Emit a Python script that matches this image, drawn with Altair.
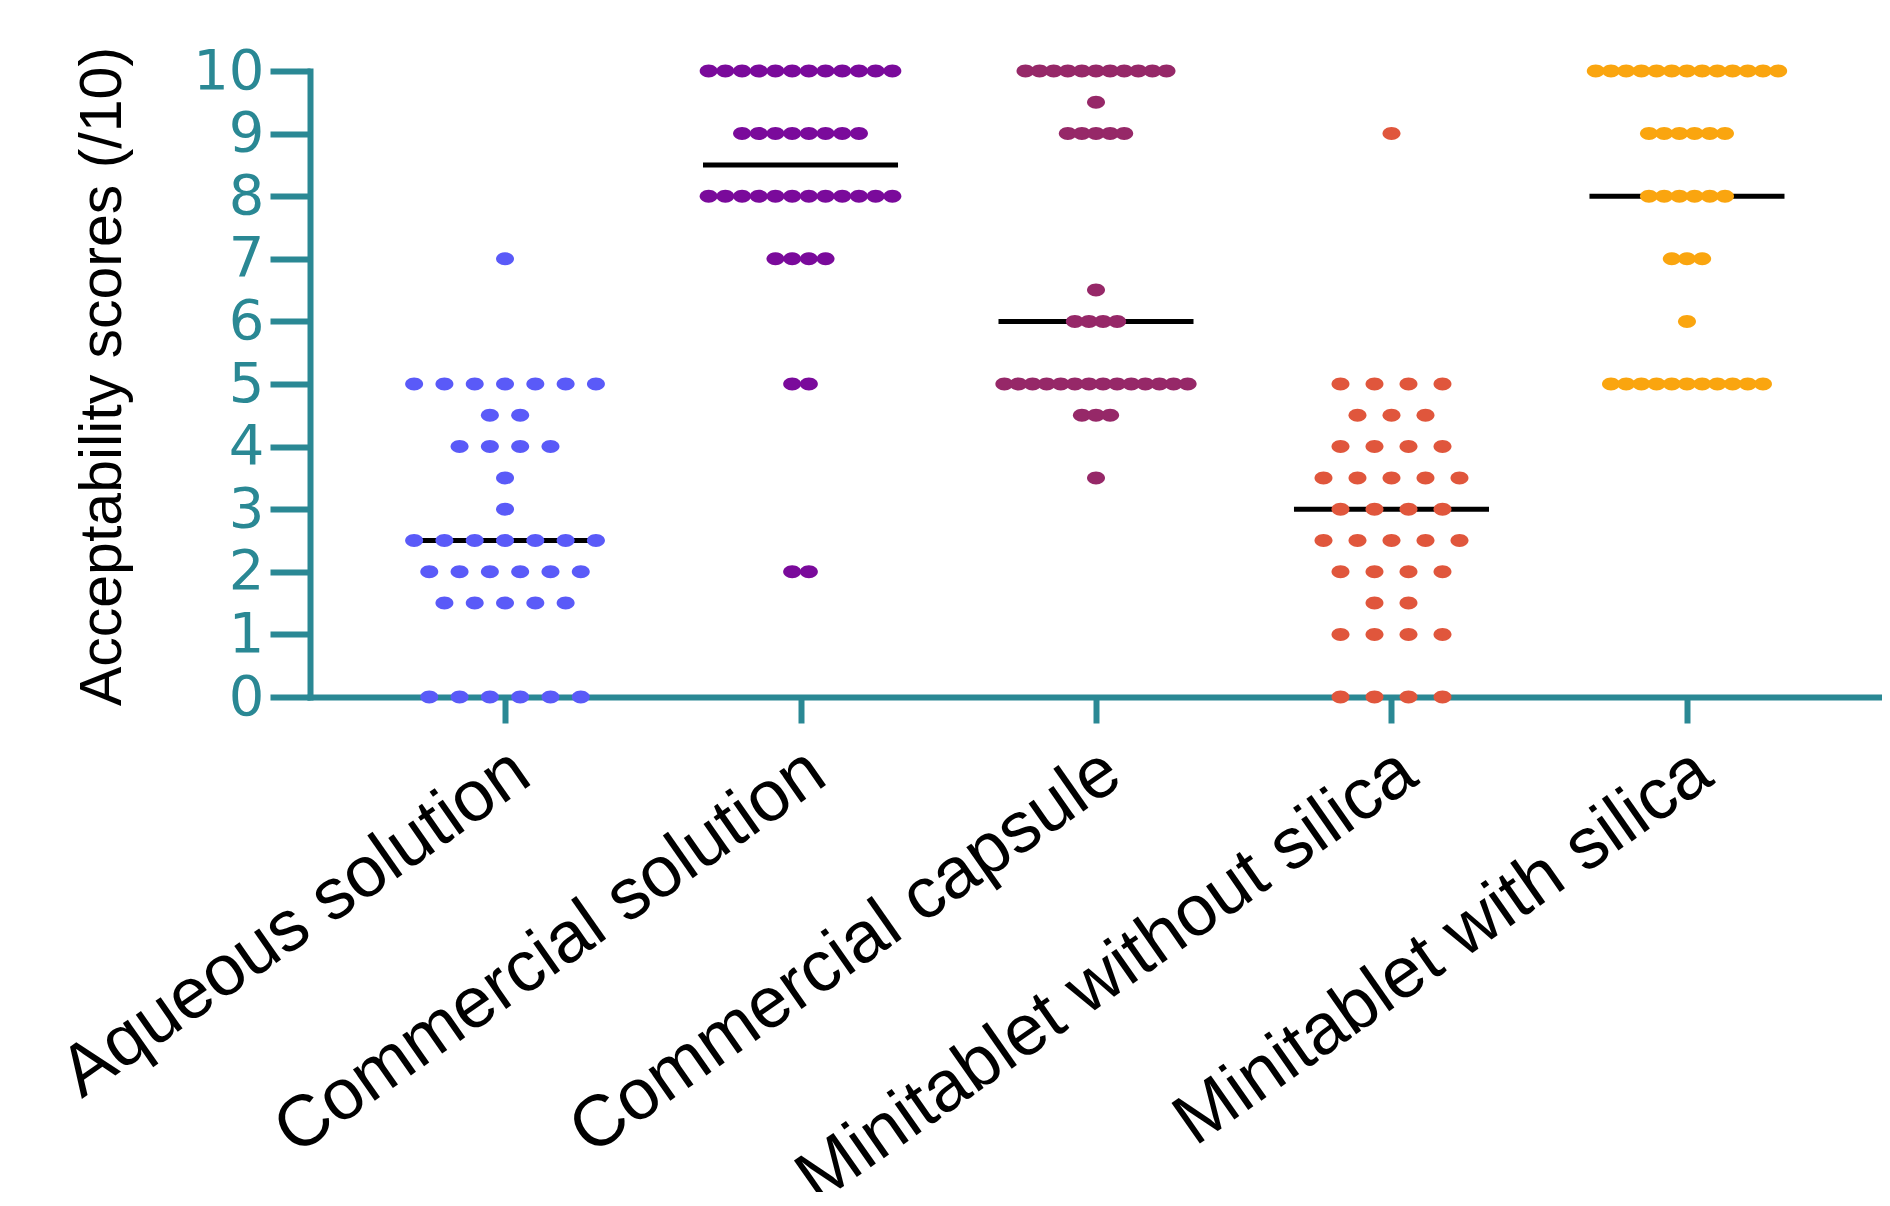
import json
import altair as alt
import pandas as pd
import numpy as np

# ---------------- data ----------------
categories = ["Aqueous solution", "Commercial solution", "Commercial capsule",
              "Minitablet without silica", "Minitablet with silica"]
colors = ["#5A5AF8", "#7A0A9B", "#962868", "#E0563C", "#FAA50F"]

aqueous_scores = [7, 5, 4.5, 4, 3.5, 3, 2.5, 2, 1.5, 0]
aqueous_counts = [1, 7, 2, 4, 1, 1, 7, 6, 5, 6]

comm_solution_scores = [10, 9, 8, 7, 5, 2]
comm_solution_counts = [12, 8, 12, 4, 2, 2]

comm_capsule_scores = [10, 9.5, 9, 6.5, 6, 5, 4.5, 3.5]
comm_capsule_counts = [11, 1, 5, 1, 4, 14, 3, 1]

mt_without_scores = [9, 5, 4.5, 4, 3.5, 3, 2.5, 2, 1.5, 1, 0]
mt_without_counts = [1, 4, 3, 4, 5, 4, 5, 4, 2, 4, 4]

mt_with_scores = [10, 9, 8, 7, 6, 5]
mt_with_counts = [13, 6, 6, 3, 1, 11]

y_ticks = list(range(0, 11))

groups = [
    (aqueous_scores, aqueous_counts),
    (comm_solution_scores, comm_solution_counts),
    (comm_capsule_scores, comm_capsule_counts),
    (mt_without_scores, mt_without_counts),
    (mt_with_scores, mt_with_counts),
]

# ---------------- layout ----------------
TEAL = "#2A8894"
PLOT_W = 1572
PLOT_H = 626
X_MIN, X_MAX = -0.66, 4.66
STEP = PLOT_W / (X_MAX - X_MIN)          # px per category
DOT_SPACING_PX = [30.3, 16.7, 14.1, 34.0, 15.2]
HALF_LINE = 0.33

rows = []
med_rows = []
for g, (scores, counts) in enumerate(groups):
    vals = []
    for s, c in zip(scores, counts):
        for i in range(c):
            off = (i - (c - 1) / 2) * DOT_SPACING_PX[g] / STEP
            rows.append({"group": categories[g], "x": g + off, "score": s})
            vals.append(s)
    med_rows.append({"x": g - HALF_LINE, "x2": g + HALF_LINE,
                     "median": float(np.median(vals))})

dots = pd.DataFrame(rows)
meds = pd.DataFrame(med_rows)

xscale = alt.Scale(domain=[X_MIN, X_MAX], nice=False, zero=False)
yscale = alt.Scale(domain=[0, 10], nice=False, zero=False)

label_expr = json.dumps(categories) + "[datum.value]"

x_axis = alt.Axis(
    values=[0, 1, 2, 3, 4], labelExpr=label_expr, title=None, grid=False,
    labelAngle=-35, labelAlign="right", labelBaseline="top",
    labelFont="Liberation Sans", labelFontSize=72, labelColor="black",
    labelPadding=12, labelOffset=-4, labelFlush=False, labelOverlap=False,
    labelBound=False, labelLimit=0,
    tickSize=26, tickWidth=6, tickColor=TEAL,
    domainColor=TEAL, domainWidth=6, domainCap="square",
)
y_axis = alt.Axis(
    values=y_ticks, format="d", grid=False, title="Acceptability scores (/10)",
    labelFont="DejaVu Sans", labelFontSize=56, labelColor=TEAL, labelPadding=6,
    tickSize=40, tickWidth=6, tickColor=TEAL,
    domainColor=TEAL, domainWidth=6, domainCap="square",
    titleFont="Liberation Sans", titleFontSize=59, titleFontWeight="normal",
    titleColor="black", titleX=-208, titleY=PLOT_H / 2 - 8, titleAngle=270,
    titleAlign="center", titleBaseline="middle",
)

ellipse = "M-1,0A1,0.72,0,1,0,1,0A1,0.72,0,1,0,-1,0Z"

points = alt.Chart(dots).mark_point(
    shape=ellipse, filled=True, size=324, opacity=1, strokeWidth=0
).encode(
    x=alt.X("x:Q", scale=xscale, axis=x_axis),
    y=alt.Y("score:Q", scale=yscale, axis=y_axis),
    color=alt.Color("group:N", scale=alt.Scale(domain=categories, range=colors),
                    legend=None),
)

rules = alt.Chart(meds).mark_rule(color="black", strokeWidth=5).encode(
    x=alt.X("x:Q", scale=xscale),
    x2="x2:Q",
    y=alt.Y("median:Q", scale=yscale),
)

chart = alt.layer(rules, points).properties(
    width=PLOT_W, height=PLOT_H,
    autosize=alt.AutoSizeParams(type="none"),
    padding={"left": 302, "top": 63, "right": 0, "bottom": 495},
).configure_view(stroke=None)

chart.save("out.html", embed_options={"renderer": "svg", "actions": False})
